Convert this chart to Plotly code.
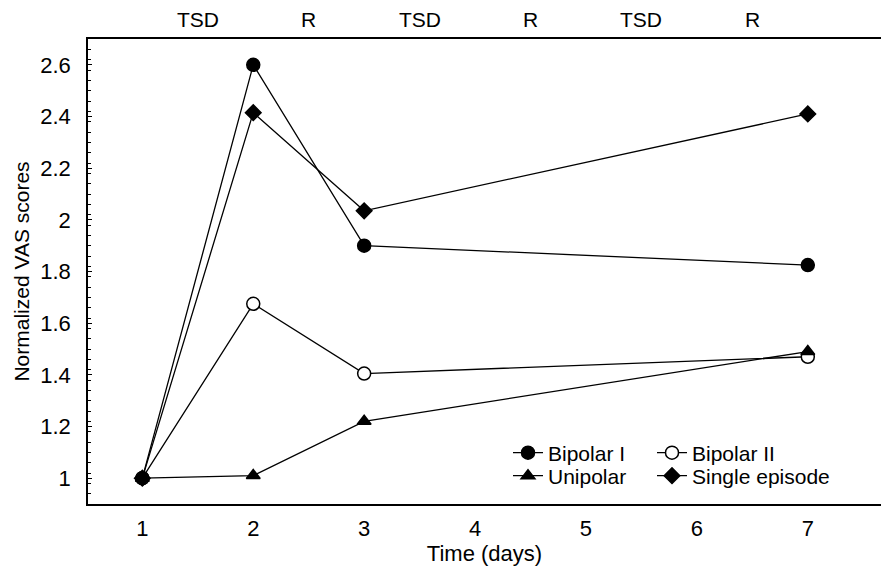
import plotly.graph_objects as go

days = [1, 2, 3, 7]
bipolar_i = [1.0, 2.60, 1.90, 1.825]
bipolar_ii = [1.0, 1.675, 1.405, 1.47]
unipolar = [1.0, 1.01, 1.22, 1.49]
single_episode = [1.0, 2.415, 2.035, 2.41]

phase_x = [1.5, 2.5, 3.5, 4.5, 5.5, 6.5]
phase_labels = ["TSD", "R", "TSD", "R", "TSD", "R"]

FONT = "Liberation Sans, Arial, sans-serif"

fig = go.Figure()
series = [
    ("Bipolar I", bipolar_i, "circle", "black", 13, "legend"),
    ("Bipolar II", bipolar_ii, "circle", "white", 13, "legend2"),
    ("Unipolar", unipolar, "triangle-up", "black", 12, "legend3"),
    ("Single episode", single_episode, "diamond", "black", 12, "legend4"),
]
for name, vals, sym, fill, sz, lg in series:
    fig.add_trace(go.Scatter(
        x=days, y=vals, name=name, mode="lines+markers", legend=lg,
        line=dict(color="black", width=1.3),
        marker=dict(symbol=sym, size=sz, color=fill,
                    line=dict(color="black", width=1.5)),
    ))

for xv, lab in zip(phase_x, phase_labels):
    fig.add_annotation(x=xv, y=1.041, xref="x", yref="paper", text=lab,
                       showarrow=False, yanchor="middle",
                       font=dict(size=21, color="black", family=FONT))

leg_common = dict(orientation="v", yanchor="middle", xanchor="left",
                  font=dict(size=21, family=FONT, color="black"),
                  bgcolor="rgba(0,0,0,0)", itemsizing="trace",
                  tracegroupgap=0, borderwidth=0)

def px_x(p):
    return (p - 88) / 793

def px_y(p):
    return (504 - p) / 465

fig.update_layout(
    width=881, height=572,
    margin=dict(l=88, r=0, t=39, b=68),
    paper_bgcolor="white", plot_bgcolor="white",
    font=dict(family=FONT, size=22, color="black"),
    showlegend=True,
    legend=dict(x=px_x(508), y=px_y(453), **leg_common),
    legend2=dict(x=px_x(652), y=px_y(453), **leg_common),
    legend3=dict(x=px_x(508), y=px_y(476), **leg_common),
    legend4=dict(x=px_x(652), y=px_y(476), **leg_common),
    xaxis=dict(range=[0.51, 7.66], tickvals=[1, 2, 3, 4, 5, 6, 7],
               showgrid=False, zeroline=False, showline=True, linecolor="black",
               linewidth=1.5, mirror=True, ticks="", ticklabelstandoff=4,
               tickfont=dict(size=22),
               title=dict(text="Time (days)", font=dict(size=22), standoff=4)),
    yaxis=dict(range=[0.9, 2.7], tickvals=[1, 1.2, 1.4, 1.6, 1.8, 2, 2.2, 2.4, 2.6],
               ticktext=["1", "1.2", "1.4", "1.6", "1.8", "2", "2.2", "2.4", "2.6"],
               showgrid=False, zeroline=False, showline=True, linecolor="black",
               linewidth=1.5, ticks="inside", ticklen=4, tickcolor="black",
               ticklabelstandoff=11, tickfont=dict(size=22),
               minor=dict(ticks="inside", ticklen=3, dtick=0.04, tick0=0.9,
                          tickcolor="black", showgrid=False),
               title=dict(text="Normalized VAS scores", font=dict(size=21), standoff=5)),
)

fig.write_html("out.html")
